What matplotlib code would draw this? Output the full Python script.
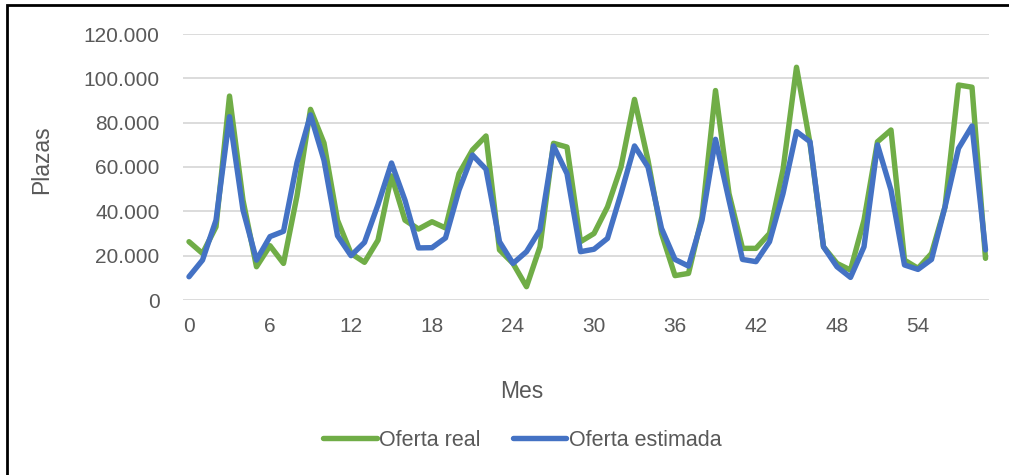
import numpy as np
import matplotlib
matplotlib.use('Agg')
import matplotlib.pyplot as plt
from matplotlib.ticker import FuncFormatter, MultipleLocator
from matplotlib.patches import Rectangle

meses = np.arange(60)

oferta_real = [26300, 21000, 33000, 92000, 45000, 15000, 24500, 16500, 47000, 86000,
               70800, 36000, 21000, 17000, 27000, 56000, 36000, 32000, 35300, 32500,
               57000, 67700, 74000, 22600, 16500, 6000, 24000, 70700, 69000, 26300,
               30000, 42000, 60000, 90500, 63000, 30000, 11000, 12000, 37600, 94500,
               48000, 23300, 23300, 30000, 58700, 105000, 70700, 24000, 16500, 13500,
               36000, 71400, 76700, 18000, 14300, 21000, 42000, 97000, 96000, 18800]

oferta_estimada = [10500, 18000, 36000, 82700, 40600, 18000, 28600, 31000, 62000, 83500,
                   63000, 29000, 20000, 26000, 43000, 61800, 45000, 23500, 23600, 28000,
                   49600, 65400, 59000, 26300, 16500, 21800, 31600, 69500, 57000, 21800,
                   22900, 27800, 48000, 69500, 60000, 32300, 18300, 15300, 36000, 72500,
                   45000, 18300, 17300, 26300, 48000, 76000, 71400, 24000, 15000, 10200,
                   24000, 70000, 49600, 15800, 13800, 18300, 42000, 68400, 78500, 22600]

W, H = 1009, 475
fig = plt.figure(figsize=(W / 100, H / 100), dpi=100)
plt.rcParams['font.family'] = ['Liberation Sans', 'DejaVu Sans']
gris = '#595959'

ax = fig.add_axes([183 / W, 1 - 300 / H, (989 - 183) / W, (300 - 34) / H])
ax.plot(meses, oferta_real, color='#70AD47', lw=3.9, label='Oferta real',
        solid_joinstyle='round', solid_capstyle='round', zorder=3)
ax.plot(meses, oferta_estimada, color='#4472C4', lw=3.9, label='Oferta estimada',
        solid_joinstyle='round', solid_capstyle='round', zorder=4)

ax.set_xlim(-6 / 13.5, (989 - 189) / 13.5)
ax.set_ylim(0, 120000)
ax.xaxis.set_major_locator(MultipleLocator(6))
ax.yaxis.set_major_locator(MultipleLocator(20000))
ax.yaxis.set_major_formatter(FuncFormatter(lambda v, p: f'{int(v):,}'.replace(',', '.')))
ax.grid(axis='y', color='#D9D9D9', lw=1.3, zorder=0)
for s in ax.spines.values():
    s.set_visible(False)
ax.tick_params(length=0, labelsize=15, colors=gris)
ax.tick_params(axis='y', pad=17)
ax.tick_params(axis='x', pad=12)

fig.text(42 / W, 1 - 160 / H, 'Plazas', rotation=90, ha='center', va='center',
         fontsize=16.5, color=gris)
fig.text(522 / W, 1 - 392 / H, 'Mes', ha='center', va='center', fontsize=16.5, color=gris)

fig.legend(loc='center', bbox_to_anchor=(522 / W, 1 - 440 / H), ncol=2, frameon=False,
           fontsize=15.5, labelcolor=gris, handlelength=2.5, handletextpad=0.1,
           columnspacing=1.5)

fig.add_artist(Rectangle((7 / W, -0.1), 1.2, 1.1 - 5 / H, transform=fig.transFigure,
                         fill=False, edgecolor='black', lw=2))

fig.savefig('out.png', dpi=100)
